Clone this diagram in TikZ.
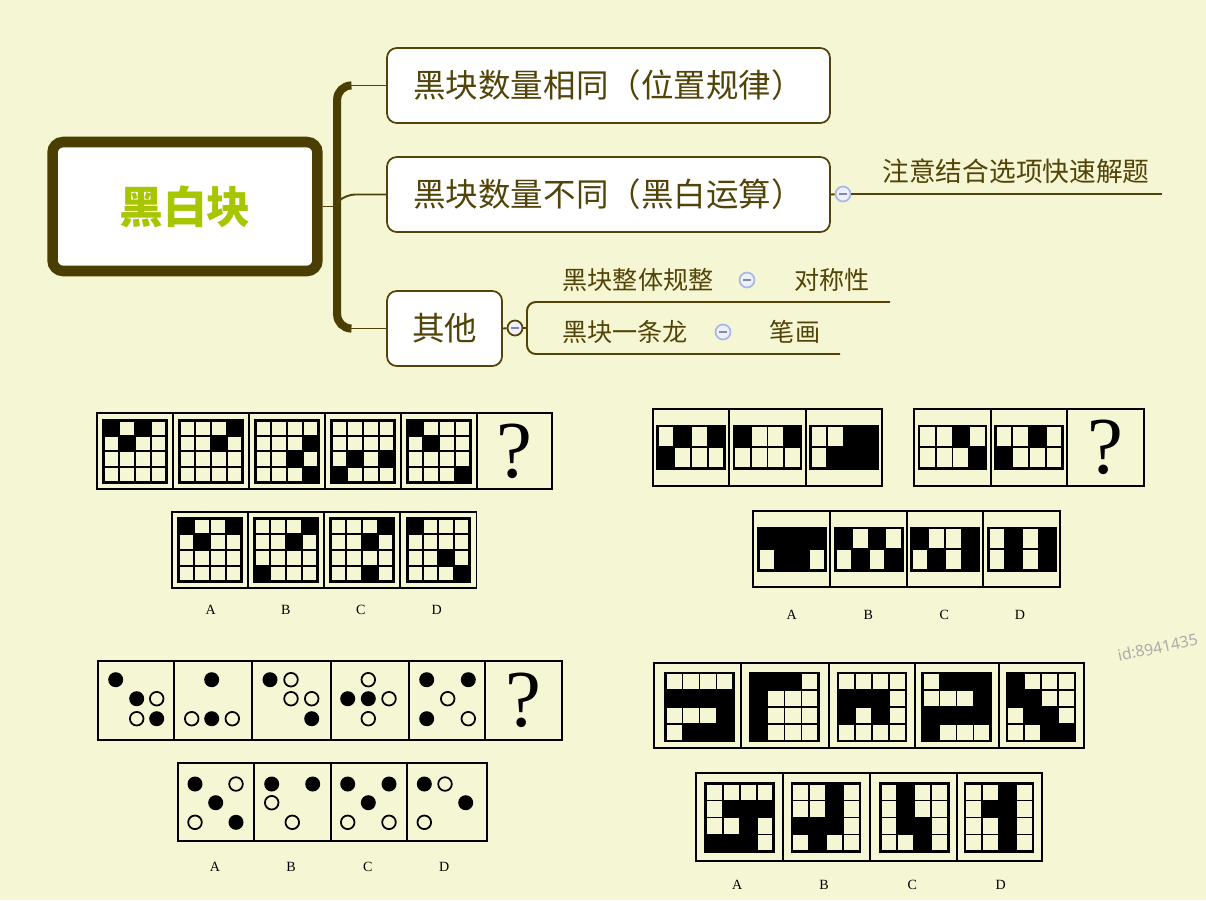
\documentclass[tikz,border=0pt]{standalone}
\usepackage{fontspec}
\setmainfont{Liberation Serif}
\newfontfamily\cjk{Noto Sans CJK SC}
\newfontfamily\tagfont{Noto Sans}
\usetikzlibrary{positioning,calc}
\definecolor{paper}{RGB}{245,246,211}
\definecolor{olive}{RGB}{82,68,8}
\definecolor{bark}{RGB}{74,62,2}
\definecolor{lime}{RGB}{168,198,0}
\definecolor{bluering}{RGB}{170,184,232}
\definecolor{bluefill}{RGB}{238,241,252}
\definecolor{stamp}{RGB}{172,172,172}
\tikzset{
  root/.style={draw=bark,line width=6pt,fill=white,rounded corners=6pt,
    minimum width=5.3cm,minimum height=2.58cm,text=lime,
    font=\cjk\bfseries\fontsize{25}{25}\selectfont},
  topic/.style={draw=olive,line width=1pt,fill=white,rounded corners=5.5pt,
    minimum height=1.5cm,text=olive,font=\cjk\fontsize{18.5}{18.5}\selectfont},
  leaf/.style={text=olive,inner sep=0pt,font=\cjk\fontsize{14.3}{14.3}\selectfont},
  fold/.style={circle,draw=#1,fill=bluefill,line width=1pt,minimum size=0.3cm,inner sep=0pt,
    path picture={\draw[bluering!75!black,line width=1pt]
      ([xshift=-2.2pt]path picture bounding box.center) -- ([xshift=2.2pt]path picture bounding box.center);}},
  fold/.default=bluering,
  link/.style={draw=olive,line width=1.1pt},
  trunk/.style={draw=bark,line width=4.6pt,rounded corners=8pt},
  panel/.style={draw=black,line width=1.1pt},
  gridline/.style={draw=black,line width=1.1pt},
  gridframe/.style={draw=black,line width=1.6pt},
  ball/.style={fill=black},
  ring/.style={draw=black,line width=1pt},
  choice/.style={font=\fontsize{8}{8}\selectfont},
  query/.style={font=\fontsize{46}{46}\selectfont},
  % 4x4 grid, #1 cell size, #2 black cells row/col
  pics/quad/.style 2 args={code={
    \foreach \i/\j in {#2} \fill[black] ({(\j-2)*#1},{(\i-2)*#1}) rectangle ++(#1,#1);
    \foreach \k in {-1,0,1} {
      \draw[gridline] ({\k*#1},{-2*#1}) -- ({\k*#1},{2*#1});
      \draw[gridline] ({-2*#1},{\k*#1}) -- ({2*#1},{\k*#1});
    }
    \draw[gridframe] ({-2*#1},{-2*#1}) rectangle ({2*#1},{2*#1});
  }},
  % 2x4 grid
  pics/strip/.style={code={
    \foreach \i/\j in {#1} \fill[black] ({(\j-2)*16.75},{(\i-1)*21.3}) rectangle ++(16.75,21.3);
    \foreach \k in {-1,0,1} \draw[gridline] ({\k*16.75},-21.3) -- ({\k*16.75},21.3);
    \draw[gridline] (-33.5,0) -- (33.5,0);
    \draw[gridframe] (-33.5,-21.3) rectangle (33.5,21.3);
  }},
}
\begin{document}
\begin{tikzpicture}[x=0.02cm,y=-0.02cm]
  \fill[paper] (0,0) rectangle (1206,900);
  \useasboundingbox (0,0) rectangle (1206,900);

  % mind map
  \node[root] (core) at (185,206.5) {黑白块};
  \node[topic,minimum width=8.86cm] (same) at (608.5,85.5) {黑块数量相同（位置规律）};
  \node[topic,minimum width=8.86cm] (diff) at (608.5,194.5) {黑块数量不同（黑白运算）};
  \node[topic,minimum width=2.3cm] (misc) at (444.5,328.5) {其他};
  \coordinate (fork) at (338,206.5);
  \draw[link] (core.east) -- (fork);
  \draw[trunk] ($(same.west)+(-36,0)$) -- ($(same.west)+(-49,0)$) |- ($(misc.west)+(-36,0)$);
  \draw[link] (same.west) -- ++(-40,0);
  \draw[link,rounded corners=5pt] (diff.west) -- ++(-40,0) -- ++(-9,8);
  \draw[link] (misc.west) -- ++(-40,0);

  \node[fold] (diffdot) at (843,194) {};
  \coordinate (tipend) at (1162,194);
  \draw[link] (diff.east) -- (diffdot);
  \draw[link] (diffdot) -- (tipend);
  \node[leaf,font=\cjk\fontsize{15.2}{15.2}\selectfont] (tip) at (1016,171) {注意结合选项快速解题};

  \node[fold=olive] (miscdot) at (515,328) {};
  \coordinate (brace) at (527,328);
  \coordinate (regend) at (890,302);
  \coordinate (dragend) at (840,354);
  \draw[link] (misc.east) -- (miscdot);
  \draw[link] (miscdot) -- (brace);
  \draw[link,rounded corners=5pt] (regend) -| (brace) |- (dragend);
  \node[leaf] (regular) at (638,280) {黑块整体规整};
  \node[fold] (regdot) at (747,280) {};
  \node[leaf] (symm) at (832,280) {对称性};
  \node[leaf] (dragon) at (625,332) {黑块一条龙};
  \node[fold] (dragdot) at (723,332) {};
  \node[leaf] (stroke) at (795,332) {笔画};

  \node[text=stamp,rotate=12,anchor=base west,font=\tagfont\fontsize{9}{9}\selectfont] (wm) at (1113,663) {id:8941435};

  % puzzle 1
  \draw[panel] (97,413) rectangle (552,489);
  \foreach \x in {173,249,325,401,477} \draw[panel] (\x,413) -- (\x,489);
  \pic at (135,451.3) {quad={15.6}{0/0,0/2,1/1}};
  \pic at (211,451.3) {quad={15.6}{0/3,1/2}};
  \pic at (287,451.3) {quad={15.6}{1/3,2/2,3/3}};
  \pic at (363,451.3) {quad={15.6}{2/1,2/3,3/0}};
  \pic at (439,451.3) {quad={15.6}{0/0,1/1,3/3}};
  \node[query] (ask1) at (514.5,451) {?};
  \draw[panel] (172,512) rectangle (476.5,588);
  \foreach \x in {248,324,400} \draw[panel] (\x,512) -- (\x,588);
  \pic at (210,550) {quad={15.6}{0/0,0/3,1/1}};
  \pic at (286,550) {quad={15.6}{0/3,1/2,3/0}};
  \pic at (362,550) {quad={15.6}{0/3,1/2,3/2}};
  \pic at (438.3,550) {quad={15.6}{0/0,2/2,3/3}};
  \foreach \x/\t in {210.7/A,285.7/B,360.7/C,436.7/D}
    \node[choice] (one\t) at (\x,610) {\t};

  % puzzle 2
  \draw[panel] (653.3,409) rectangle (882.3,486);
  \foreach \x in {729.3,805.7} \draw[panel] (\x,409) -- (\x,486);
  \draw[panel] (914.3,409) rectangle (1144,486);
  \foreach \x in {990.7,1067.3} \draw[panel] (\x,409) -- (\x,486);
  \pic at (691.2,447.3) {strip={0/1,0/3,1/0}};
  \pic at (767.5,447.3) {strip={0/0,0/3}};
  \pic at (844,447.3) {strip={0/2,0/3,1/1,1/2,1/3}};
  \pic at (952.5,447.3) {strip={0/2,1/3}};
  \pic at (1029,447.3) {strip={0/2,1/0}};
  \node[query] (ask2) at (1105.7,447) {?};
  \draw[panel] (753.3,511.3) rectangle (1060,587.3);
  \foreach \x in {830.3,907,983.3} \draw[panel] (\x,511.3) -- (\x,587.3);
  \pic at (791.8,549.3) {strip={0/0,0/1,0/2,0/3,1/1,1/2}};
  \pic at (868.7,549.3) {strip={0/0,0/2,1/1,1/3}};
  \pic at (945.2,549.3) {strip={0/0,0/3,1/1,1/3}};
  \pic at (1021.7,549.3) {strip={0/1,0/3,1/1,1/3}};
  \foreach \x/\t in {791.7/A,868.3/B,944.3/C,1020/D}
    \node[choice] (two\t) at (\x,614.7) {\t};

  % puzzle 3
  \draw[panel] (98.3,661.3) rectangle (561.7,740.3);
  \foreach \x in {173.7,252,331.3,409.3,485} \draw[panel] (\x,661.3) -- (\x,740.3);
  \foreach \x/\y in {115.7/679.7,136.7/698.7,156.7/718.7,211.7/679.7,211.7/718.7,
      270/679.7,311.7/718.7,347.7/698.7,368.3/698.7,426.7/679.7,468.3/679.7,426.7/718.7}
    \fill[ball] (\x,\y) circle (0.15cm);
  \foreach \x/\y in {156.7/698.7,136.7/718.7,191.7/718.7,232.3/718.7,291/679.7,291/698.7,
      311.7/698.7,368.3/679.7,389/698.7,368.3/718.7,447.7/698.7,468.3/718.7}
    \draw[ring] (\x,\y) circle (0.136cm);
  \node[query] (ask3) at (523,700) {?};
  \draw[panel] (177.7,763.3) rectangle (487.3,841);
  \foreach \x in {254.3,330.7,406.7} \draw[panel] (\x,763.3) -- (\x,841);
  \foreach \x/\y in {195/784,215.7/802.7,236/822.3,271.7/784,312.7/784,347.7/784,389/784,
      368.3/802.7,424.3/784,465.7/802.7}
    \fill[ball] (\x,\y) circle (0.15cm);
  \foreach \x/\y in {236/784,195/822.3,271.7/802.7,292.3/822.3,347.7/822.3,389/822.3,
      445/784,424.3/822.3}
    \draw[ring] (\x,\y) circle (0.136cm);
  \foreach \x/\t in {215/A,291/B,367.7/C,444.3/D}
    \node[choice] (three\t) at (\x,866.7) {\t};

  % puzzle 4
  \draw[panel] (653.7,662.7) rectangle (1084.3,748.3);
  \foreach \x in {741.3,828.7,915.3,998.7} \draw[panel] (\x,662.7) -- (\x,748.3);
  \pic at (699.5,707) {quad={17}{1/0,1/1,1/2,1/3,2/3,3/1,3/2,3/3}};
  \pic at (784.5,707) {quad={17}{0/0,0/1,0/2,1/0,2/0,3/0}};
  \pic at (872,707) {quad={17}{1/0,1/1,1/2,2/0,2/2}};
  \pic at (956.5,707) {quad={17}{0/1,0/2,0/3,1/3,2/0,2/1,2/2,2/3,3/0}};
  \pic at (1041,707) {quad={17}{0/0,1/0,1/1,2/1,2/2,3/2,3/3}};
  \draw[panel] (695.7,773.3) rectangle (1042.3,860.7);
  \foreach \x in {783,869.7,956.7} \draw[panel] (\x,773.3) -- (\x,860.7);
  \pic at (739.8,817.5) {quad={17}{1/1,1/2,1/3,2/2,3/0,3/1,3/2}};
  \pic at (826,817.5) {quad={17}{0/2,1/2,2/0,2/1,2/2,3/1}};
  \pic at (914.3,817.5) {quad={17}{0/1,1/1,2/1,2/2,3/2}};
  \pic at (999,817.5) {quad={17}{0/2,1/1,1/2,2/2,3/2}};
  \foreach \x/\t in {737.3/A,824/B,912.3/C,1000.7/D}
    \node[choice] (four\t) at (\x,885) {\t};
\end{tikzpicture}
\end{document}
